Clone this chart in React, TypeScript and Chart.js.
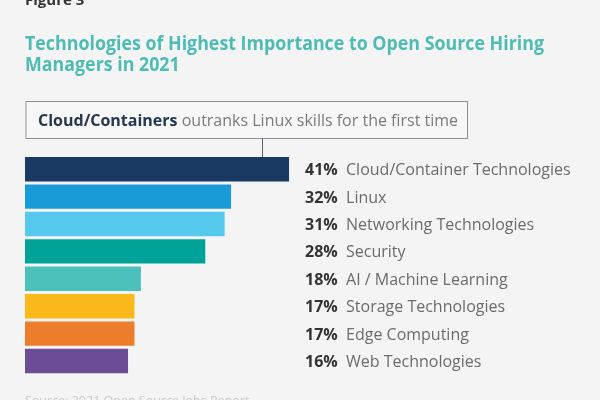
import React, { useEffect, useRef } from "react";
import { Chart, registerables } from "chart.js";

Chart.register(...registerables);

const categories = [
  "Cloud/Container Technologies",
  "Linux",
  "Networking Technologies",
  "Security",
  "AI / Machine Learning",
  "Storage Technologies",
  "Edge Computing",
  "Web Technologies",
];
const values = [41, 32, 31, 28, 18, 17, 17, 16];
const barColors = [
  "#1b3a63",
  "#189bd7",
  "#56c8ee",
  "#00a39a",
  "#4cc0bb",
  "#fbb81b",
  "#eb7d2b",
  "#6c4c94",
];
const figureLabel = "Figure 3";
const titleLines = [
  "Technologies of Highest Importance to Open Source Hiring",
  "Managers in 2021",
];
const calloutBold = "Cloud/Containers";
const calloutRest = " outranks Linux skills for the first time";
const sourceText = "Source: 2021 Open Source Jobs Report";

const FONT = "'Open Sans', 'Noto Sans', sans-serif";

const decorPlugin = {
  id: "decor",
  beforeDraw(chart: any) {
    const ctx = chart.ctx;
    ctx.save();
    ctx.fillStyle = "#f4f4f4";
    ctx.fillRect(0, 0, chart.width, chart.height);
    ctx.restore();
  },
  afterDraw(chart: any) {
    const ctx = chart.ctx;
    const area = chart.chartArea;
    const xs = chart.scales.x;
    ctx.save();
    ctx.textBaseline = "alphabetic";
    ctx.textAlign = "left";

    // Figure label
    ctx.fillStyle = "#333333";
    ctx.font = `bold 15px ${FONT}`;
    ctx.fillText(figureLabel, area.left, 5);

    // Title (slightly condensed to match the original typeface width)
    ctx.fillStyle = "#4dbcb4";
    ctx.font = `bold 19px ${FONT}`;
    const tw = ctx.measureText(titleLines[0]).width;
    const sx = 519 / tw;
    ctx.save();
    ctx.translate(area.left, 0);
    ctx.scale(sx, 1);
    ctx.fillText(titleLines[0], 0, 50);
    ctx.fillText(titleLines[1], 0, 71);
    ctx.restore();

    // Callout box
    const boxL = area.left + 1;
    const boxT = 101.5;
    const boxR = 467.5;
    const boxB = 138.5;
    ctx.fillStyle = "#f7f7f7";
    ctx.fillRect(boxL, boxT, boxR - boxL, boxB - boxT);
    ctx.strokeStyle = "#8a8f99";
    ctx.lineWidth = 1;
    ctx.strokeRect(boxL, boxT, boxR - boxL, boxB - boxT);
    ctx.font = `bold 16px ${FONT}`;
    ctx.fillStyle = "#243650";
    ctx.fillText(calloutBold, 38, 126);
    const w = ctx.measureText(calloutBold).width;
    ctx.font = `16px ${FONT}`;
    ctx.fillStyle = "#7a7a7a";
    ctx.fillText(calloutRest, 38 + w, 126);

    // Connector
    ctx.strokeStyle = "#5a6070";
    ctx.beginPath();
    ctx.moveTo(262.5, boxB);
    ctx.lineTo(262.5, chart.getDatasetMeta(0).data[0].y - 12);
    ctx.stroke();

    // Bar labels
    const meta = chart.getDatasetMeta(0);
    const labelX = xs.getPixelForValue(Math.max(...values)) + 16;
    meta.data.forEach((bar: any, i: number) => {
      const y = bar.y + 6;
      ctx.font = `bold 16px ${FONT}`;
      ctx.fillStyle = "#333333";
      const pct = `${values[i]}%`;
      ctx.fillText(pct, labelX, y);
      ctx.font = `16px ${FONT}`;
      ctx.fillStyle = "#6b6b6b";
      ctx.fillText(categories[i], labelX + 41, y);
    });

    // Source
    ctx.font = `12.5px ${FONT}`;
    ctx.fillStyle = "#c9c9c9";
    ctx.fillText(sourceText, area.left, 405);
    ctx.restore();
  },
};

export default function App() {
  const ref = useRef<HTMLCanvasElement | null>(null);
  useEffect(() => {
    document.body.style.margin = "0";
    const canvas = ref.current;
    if (!canvas) return;
    const chart = new Chart(canvas, {
      type: "bar",
      data: {
        labels: categories,
        datasets: [
          {
            data: values,
            backgroundColor: barColors,
            borderWidth: 0,
            categoryPercentage: 1,
            barPercentage: 0.89,
          },
        ],
      },
      options: {
        indexAxis: "y",
        responsive: false,
        animation: false,
        layout: { padding: { left: 25, right: 188.6, top: 155.5, bottom: 25.3 } },
        plugins: {
          legend: { display: false },
          title: { display: false },
          tooltip: { enabled: false },
        },
        scales: {
          x: { display: false, min: 0, max: 60 },
          y: { display: false },
        },
      },
      plugins: [decorPlugin],
    });
    return () => chart.destroy();
  }, []);
  return (
    <div style={{ width: 600, height: 400, background: "#f4f4f4" }}>
      <canvas ref={ref} width={600} height={400} />
    </div>
  );
}
